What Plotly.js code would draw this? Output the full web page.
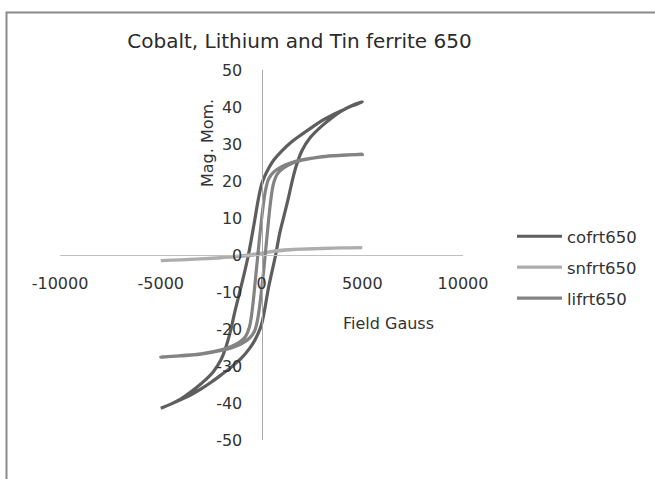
<!DOCTYPE html>
<html>
<head>
<meta charset="utf-8">
<script src="https://cdn.plot.ly/plotly-3.0.1.min.js"></script>
<style>html,body{margin:0;padding:0;background:#fff;}#chart{width:655px;height:479px;}</style>
</head>
<body>
<div id="chart"></div>
<script>
// ---- Data ----
var seriesNames = ["cofrt650", "snfrt650", "lifrt650"];

// cofrt650: descending branch then ascending branch
var coX = [5000, 4500, 4000, 3500, 3000, 2500, 2000, 1500, 1000, 600, 350, 150, 0, -150, -350, -650, -900, -1150, -1350, -1550, -1750, -2000, -2400, -3000, -3500, -4000, -4500, -5000,
           -4500, -4000, -3500, -3000, -2500, -2000, -1500, -1000, -600, -350, -150, 0, 150, 350, 700, 900, 1150, 1350, 1550, 1750, 2000, 2400, 3000, 3500, 4000, 4500, 5000];
var coY = [41.4, 40.3, 39.1, 37.8, 36.3, 34.5, 32.6, 30.6, 28.1, 25.6, 23.4, 21.2, 19, 15.3, 9, 0, -6, -11.5, -16, -20.8, -24.6, -28.2, -31.6, -34.8, -37, -38.9, -40.3, -41.4,
           -40.3, -39.1, -37.8, -36.2, -34.4, -32.4, -30.3, -27.9, -25.3, -23.2, -21.0, -18.8, -15.0, -8.8, 0, 5.8, 11.3, 15.8, 20.6, 24.5, 28.1, 31.6, 34.9, 37.1, 39.0, 40.4, 41.4];

// snfrt650
var snX = [5000, 4000, 3000, 2000, 1000, 500, 0, -500, -1000, -1500, -2000, -3000, -4000, -5000,
           -4000, -3000, -2000, -1000, -500, 0, 500, 1000, 2000, 3000, 4000, 5000];
var snY = [2.0, 1.9, 1.75, 1.55, 1.2, 0.9, 0.4, -0.1, -0.35, -0.55, -0.75, -1.05, -1.3, -1.5,
           -1.3, -1.05, -0.7, -0.25, 0.1, 0.5, 1.0, 1.3, 1.6, 1.8, 1.9, 2.0];

// lifrt650
var liX = [5000, 4000, 3000, 2000, 1500, 1000, 600, 350, 200, 100, 0, -100, -200, -300, -400, -500, -600, -800, -1100, -1500, -2000, -3000, -4000, -5000,
           -4000, -3000, -2000, -1500, -1000, -600, -350, -200, -100, 0, 100, 200, 300, 400, 500, 600, 800, 1100, 1500, 2000, 3000, 4000, 5000];
var liY = [27.2, 26.9, 26.5, 25.7, 25.0, 23.9, 22.4, 20.5, 17.5, 14, 9.5, 4.5, -1, -6.5, -12, -16.5, -19.5, -22.1, -23.6, -24.7, -25.6, -26.7, -27.2, -27.6,
           -27.3, -26.8, -25.8, -25.1, -24.0, -22.5, -20.6, -17.6, -14.1, -9.6, -4.6, 1, 6.5, 12, 16.4, 19.4, 22.0, 23.5, 24.7, 25.6, 26.6, 27.0, 27.2];

var xTicks = [-10000, -5000, 0, 5000, 10000];
var yTicks = [-50, -40, -30, -20, -10, 0, 10, 20, 30, 40, 50];

var chartTitle = "Cobalt, Lithium and Tin ferrite 650";
var xTitle = "Field Gauss";
var yTitle = "Mag. Mom.";

// ---- Styling ----
var FONT = "DejaVu Sans, sans-serif";
var colors = ["#5e5e5e", "#adadad", "#838383"];

function mk(x, y, i) {
  return {
    x: x, y: y, name: seriesNames[i], type: "scatter", mode: "lines",
    legendgroup: "g" + i,
    line: {color: colors[i], width: 3.2, shape: "spline", smoothing: 1},
    hoverinfo: "skip"
  };
}

var data = [mk(coX, coY, 0), mk(snX, snY, 1), mk(liX, liY, 2)];

var W = 655, H = 479, L = 60, R = 463, T = 70, B = 440;
function px(p) { return (p - L) / (R - L); }
function py(p) { return (B - p) / (B - T); }

var layout = {
  width: W, height: H,
  margin: {l: L, r: W - R, t: T, b: H - B, pad: 0},
  paper_bgcolor: "#ffffff", plot_bgcolor: "rgba(0,0,0,0)",
  font: {family: FONT, color: "#333333", size: 16},
  showlegend: true,
  title: {
    text: chartTitle, font: {family: FONT, size: 20, color: "#2b2b2b"},
    xref: "paper", x: px(299.5), xanchor: "center",
    yref: "container", y: 1 - 41 / H, yanchor: "middle"
  },
  xaxis: {
    range: [-10000, 10000], tickvals: xTicks, ticktext: xTicks.map(String),
    showgrid: false, zeroline: false, showline: true, linecolor: "#c0c0c0", linewidth: 1.2,
    ticks: "", anchor: "free", position: 0.5, ticklabelstandoff: 14,
    tickfont: {family: FONT, size: 16, color: "#333333"}, fixedrange: true
  },
  yaxis: {
    range: [-50, 50], tickvals: yTicks, ticktext: yTicks.map(String),
    showgrid: false, zeroline: false, showline: true, linecolor: "#a8a8a8", linewidth: 1.2,
    ticks: "", anchor: "free", position: 0.5, ticklabelstandoff: 16,
    tickfont: {family: FONT, size: 16, color: "#333333"}, fixedrange: true
  },
  legend: {
    x: px(512), xanchor: "left", y: py(219), yanchor: "top",
    font: {family: FONT, size: 16.5, color: "#333333"},
    bgcolor: "rgba(0,0,0,0)", borderwidth: 0,
    traceorder: "grouped", tracegroupgap: 6.5, itemwidth: 45
  },
  annotations: [
    {text: yTitle, xref: "paper", yref: "paper", x: px(207), y: py(143), textangle: -90,
     showarrow: false, xanchor: "center", yanchor: "middle", font: {family: FONT, size: 16, color: "#333333"}},
    {text: xTitle, xref: "paper", yref: "paper", x: px(388), y: py(323),
     showarrow: false, xanchor: "center", yanchor: "middle", font: {family: FONT, size: 16, color: "#333333"}}
  ],
  shapes: [
    {type: "rect", xref: "paper", yref: "paper", x0: px(6.5), x1: px(900), y0: py(900), y1: py(12.5),
     line: {color: "#8a8a8a", width: 2}, fillcolor: "rgba(0,0,0,0)", layer: "below"}
  ]
};

Plotly.newPlot("chart", data, layout, {displayModeBar: false, staticPlot: true});
</script>
</body>
</html>
